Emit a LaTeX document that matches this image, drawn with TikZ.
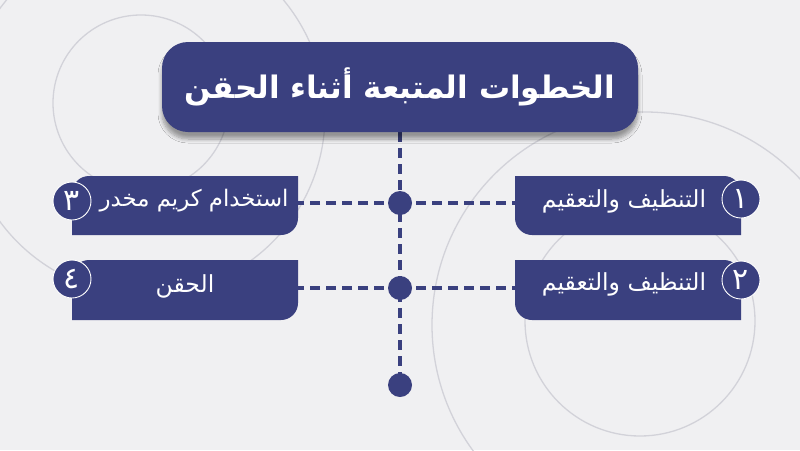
\documentclass[tikz,border=0pt]{standalone}
\usepackage{fontspec}
\newfontfamily\arabicfont[Script=Arabic]{DejaVu Sans}
\TeXXeTstate=1
\usetikzlibrary{shadows.blur,backgrounds}
\definecolor{navy}{RGB}{58,64,127}
\definecolor{bgc}{RGB}{240,240,242}
\definecolor{ringc}{RGB}{210,210,217}
\begin{document}
\begin{tikzpicture}[x=1pt,y=-1pt,
  ring/.style={draw=ringc,line width=1.3pt},
  titlebox/.style={fill=navy,rounded corners=26pt,minimum width=476pt,minimum height=90pt,inner sep=0pt,text=white,
    font=\arabicfont\bfseries\fontsize{31}{36}\selectfont,
    blur shadow={shadow xshift=0pt,shadow yshift=-7pt,shadow blur steps=8,shadow opacity=38,shadow blur radius=4pt}},
  boxfill/.style={fill=navy},
  steptext/.style={inner sep=0pt,text=white,font=\arabicfont\fontsize{23.5}{28}\selectfont},
  numdisc/.style={circle,fill=navy,draw=white,line width=0.9pt,minimum size=38pt,inner sep=0pt,text=white,
    font=\arabicfont\fontsize{30}{34}\selectfont},
  hubdot/.style={circle,fill=navy,minimum size=24pt,inner sep=0pt},
  dashlink/.style={draw=navy,line width=3.3pt,dash pattern=on 10pt off 6pt}
]
\useasboundingbox (0,0) rectangle (800,450);

% step box shapes
\fill[boxfill] (515,176) -- (724,176) .. controls (733.4,176) and (741,183.6) .. (741,193) -- (741,235) -- (532,235) .. controls (522.6,235) and (515,227.4) .. (515,218) -- cycle;
\fill[boxfill] (515,260) -- (724,260) .. controls (733.4,260) and (741,267.6) .. (741,277) -- (741,320) -- (532,320) .. controls (522.6,320) and (515,312.4) .. (515,303) -- cycle;
\fill[boxfill] (72,193) .. controls (72,183.6) and (79.6,176) .. (89,176) -- (298,176) -- (298,218) .. controls (298,227.4) and (290.4,235) .. (281,235) -- (72,235) -- cycle;
\fill[boxfill] (72,277) .. controls (72,267.6) and (79.6,260) .. (89,260) -- (298,260) -- (298,303) .. controls (298,312.4) and (290.4,320) .. (281,320) -- (72,320) -- cycle;

% title
\node[titlebox] (title) at (400,87) {\beginR الخطوات المتبعة أثناء الحقن\endR};

% named frames matching the boxes
\node[minimum width=226pt,minimum height=59pt,inner sep=0pt] (b1) at (628,205.5) {};
\node[minimum width=226pt,minimum height=60pt,inner sep=0pt] (b2) at (628,290) {};
\node[minimum width=226pt,minimum height=59pt,inner sep=0pt] (b3) at (185,205.5) {};
\node[minimum width=226pt,minimum height=60pt,inner sep=0pt] (b4) at (185,290) {};
\node[steptext] (t1) at (624,201) {\beginR التنظيف والتعقيم\endR};
\node[steptext] (t2) at (624,284) {\beginR التنظيف والتعقيم\endR};
\node[steptext,font=\arabicfont\fontsize{22.8}{27}\selectfont] (t3) at (194,201) {\beginR استخدام كريم مخدر\endR};
\node[steptext] (t4) at (185,286) {\beginR الحقن\endR};

% number discs
\node[numdisc] (n1) at (741,199) {١};
\node[numdisc] (n2) at (741,280) {٢};
\node[numdisc] (n3) at (72,201) {٣};
\node[numdisc] (n4) at (72,279) {٤};

% hub dots
\node[hubdot] (d1) at (400,203) {};
\node[hubdot] (d2) at (400,288) {};
\node[hubdot] (d3) at (400,385) {};

\begin{scope}[on background layer]
  \fill[bgc] (0,0) rectangle (800,450);
  % decorative rings
  \draw[ring] (141,103) circle[radius=88];
  \draw[ring] (145,115) circle[radius=180];
  \draw[ring] (645,325) circle[radius=213];
  \draw[ring] (640,321) circle[radius=115];
  % connectors
  \draw[dashlink] (title.south) -- (d3.center);
  \draw[dashlink] (d1.center) -- (d1 -| b1.west);
  \draw[dashlink] (d2.center) -- (d2 -| b2.west);
  \draw[dashlink] (d1.center) -- (d1 -| b3.east);
  \draw[dashlink] (d2.center) -- (d2 -| b4.east);
\end{scope}
\end{tikzpicture}
\end{document}
